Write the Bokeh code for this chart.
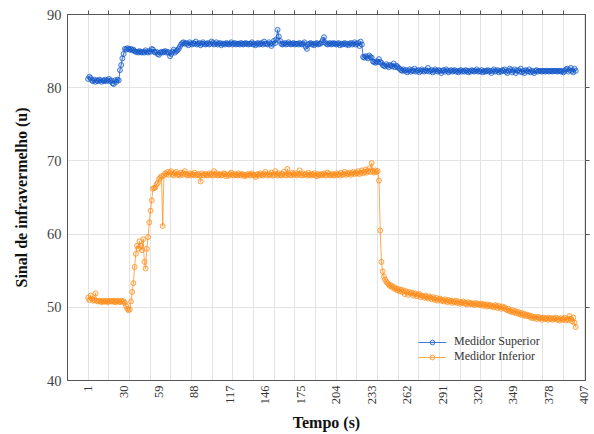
import math
from bokeh.plotting import figure
from bokeh.models import Range1d, FixedTicker, LinearAxis, Legend, LegendItem, ColumnDataSource
from bokeh.embed import file_html
from bokeh.resources import INLINE

# ---- data ----
superior = [
    81.2, 81.5, 81.3, 81.0, 80.9, 81.1, 80.8, 81.0, 80.9, 81.1, 81.0, 80.8, 81.0, 80.9, 81.1, 80.9, 81.0, 81.2, 80.9, 81.0,
    80.6, 80.5, 81.0, 80.8, 81.1, 81.0, 82.4, 83.1, 84.0, 84.6, 85.3, 85.2, 85.4, 85.3, 85.2, 85.3, 85.1, 85.2, 85.0, 84.9,
    84.9, 84.8, 85.0, 84.9, 84.8, 84.9, 84.8, 85.1, 84.9, 84.8, 85.0, 84.9, 85.3, 85.2, 84.9, 84.8, 84.9, 84.6, 84.5, 84.8,
    84.9, 84.8, 84.9, 85.0, 84.8, 84.9, 84.8, 84.3, 84.6, 84.9, 85.2, 84.8, 85.0, 85.1, 85.3, 85.6, 85.9, 86.1, 86.2, 86.0,
    86.1, 86.0, 85.8, 86.2, 86.0, 85.9, 86.1, 86.0, 86.3, 85.9, 86.0, 86.1, 85.8, 86.0, 86.2, 86.0, 85.9, 86.0, 86.1, 85.9,
    86.0, 86.3, 86.1, 85.9, 86.0, 86.2, 85.9, 86.0, 86.1, 85.8, 86.0, 86.0, 85.9, 86.1, 86.0, 85.9, 86.0, 86.2, 85.9, 86.0,
    86.1, 85.9, 86.0, 86.0, 85.9, 86.1, 86.0, 85.9, 86.0, 86.1, 86.0, 85.9, 86.0, 86.0, 86.2, 85.9, 86.0, 85.8, 86.0, 86.1,
    85.9, 86.0, 86.1, 85.9, 86.3, 86.0, 86.0, 85.9, 86.2, 86.0, 85.7, 86.0, 86.4, 86.1, 86.6, 87.9, 87.0, 86.4, 86.0, 85.9,
    86.0, 86.1, 85.9, 86.0, 86.2, 86.0, 85.9, 86.0, 86.1, 85.9, 86.0, 86.0, 85.9, 86.1, 86.0, 85.9, 86.0, 86.2, 85.6, 85.3,
    85.9, 86.0, 86.1, 85.9, 86.0, 85.8, 86.0, 86.1, 85.9, 86.0, 86.0, 86.2, 86.5, 86.9, 86.2, 86.0, 85.9, 86.0, 86.1, 85.9,
    86.0, 86.1, 86.0, 85.9, 86.0, 86.1, 85.8, 86.0, 85.9, 86.0, 86.1, 85.9, 86.0, 85.8, 86.0, 86.1, 85.9, 86.0, 86.2, 85.9,
    86.0, 86.1, 85.7, 86.3, 85.9, 84.2, 84.1, 84.3, 84.2, 84.0, 84.4, 84.2, 84.1, 83.6, 83.5, 83.4, 83.6, 83.5, 83.9, 83.5,
    83.4, 83.1, 83.0, 82.9, 83.2, 83.0, 82.8, 83.1, 83.0, 82.9, 83.3, 82.8, 83.0, 82.9, 82.7, 82.6, 82.4, 82.3, 82.5, 82.3,
    82.4, 82.1, 82.3, 82.5, 82.2, 82.4, 82.3, 82.6, 82.2, 82.3, 82.4, 82.1, 82.3, 82.5, 82.3, 82.2, 82.4, 82.3, 82.7, 82.2,
    82.3, 82.4, 82.1, 82.3, 82.5, 82.3, 82.2, 82.4, 82.3, 82.0, 82.3, 82.4, 82.2, 82.5, 82.3, 82.1, 82.3, 82.4, 82.2, 82.3,
    82.4, 82.2, 82.3, 82.1, 82.3, 82.4, 82.2, 82.3, 82.2, 82.4, 82.3, 82.1, 82.3, 82.2, 82.4, 82.3, 82.2, 82.3, 82.5, 82.2,
    82.3, 82.2, 82.4, 82.1, 82.3, 82.2, 82.3, 82.4, 82.2, 82.3, 82.0, 82.3, 82.5, 82.2, 82.3, 82.4, 82.1, 82.3, 82.2, 82.4,
    82.3, 82.5, 82.2, 82.0, 82.3, 82.6, 82.4, 82.1, 82.3, 82.5, 82.0, 82.3, 82.4, 82.2, 82.6, 82.1, 82.3, 82.0, 82.4, 82.3,
    82.2, 82.5, 82.1, 82.3, 82.2, 82.0, 82.3, 82.4, 82.2, 82.3, 82.3, 82.2, 82.3, 82.3, 82.2, 82.3, 82.3, 82.2, 82.3, 82.3,
    82.2, 82.3, 82.3, 82.3, 82.2, 82.3, 82.3, 82.2, 82.3, 82.1, 82.3, 82.5, 82.6, 82.2, 82.4, 82.7, 82.3, 82.1, 82.6, 82.3,
]

inferior = [
    51.3, 51.0, 51.6, 51.2, 50.9, 51.0, 51.9, 50.9, 50.8, 50.9, 50.8, 50.7, 50.9, 50.8, 50.8, 50.9, 50.7, 50.8, 50.9, 50.8,
    50.8, 50.9, 50.7, 50.8, 50.9, 50.8, 50.7, 50.9, 50.8, 50.8, 50.6, 50.2, 49.8, 49.6, 49.7, 50.8, 52.1, 53.3, 55.5, 57.3,
    58.4, 58.0, 59.0, 58.4, 57.8, 59.3, 56.2, 55.3, 58.0, 59.6, 61.6, 63.2, 64.6, 66.2, 66.3, 66.4, 66.8, 67.0, 67.5, 67.7,
    67.9, 61.1, 68.0, 68.3, 68.2, 68.5, 68.1, 68.4, 68.6, 68.2, 68.0, 68.3, 68.5, 68.1, 68.2, 68.0, 68.4, 68.1, 68.3, 68.6,
    68.2, 68.0, 68.1, 68.3, 68.0, 68.2, 68.1, 68.4, 68.0, 68.1, 68.2, 68.0, 67.2, 68.3, 68.1, 68.0, 68.2, 68.1, 68.0, 68.3,
    68.1, 68.2, 68.0, 68.6, 68.1, 68.3, 68.0, 68.1, 68.2, 68.0, 68.1, 68.3, 68.2, 67.9, 68.1, 68.0, 68.2, 68.4, 68.1, 68.0,
    68.2, 68.1, 68.0, 68.3, 68.1, 68.0, 68.2, 68.1, 67.9, 68.1, 68.0, 68.2, 68.1, 68.0, 68.3, 68.1, 68.0, 67.8, 68.1, 68.2,
    68.0, 68.3, 68.1, 68.0, 68.2, 68.5, 68.1, 68.0, 68.2, 68.1, 68.4, 68.0, 68.1, 68.6, 68.2, 68.0, 68.3, 68.1, 68.0, 68.2,
    68.5, 68.1, 68.0, 68.9, 68.2, 68.1, 68.0, 68.4, 68.2, 68.1, 68.3, 68.0, 68.2, 68.7, 68.1, 68.0, 68.3, 68.1, 68.2, 68.0,
    68.4, 68.1, 68.0, 68.2, 68.1, 68.3, 68.0, 67.9, 68.2, 68.1, 68.0, 68.2, 68.1, 68.3, 68.0, 68.1, 68.4, 68.2, 68.0, 68.1,
    68.2, 68.0, 68.1, 68.3, 68.1, 68.2, 68.0, 68.4, 68.1, 68.2, 68.5, 68.1, 68.3, 68.2, 68.4, 68.1, 68.3, 68.5, 68.2, 68.4,
    68.3, 68.6, 68.2, 68.4, 68.7, 68.3, 68.5, 68.8, 68.4, 68.6, 69.0, 68.5, 69.7, 68.6, 68.4, 68.7, 68.5, 68.6, 67.3, 60.5,
    56.2, 54.9, 54.2, 53.8, 53.5, 53.3, 53.1, 52.9, 53.0, 52.7, 52.8, 52.5, 52.6, 52.3, 52.5, 52.2, 52.4, 52.1, 52.3, 51.8,
    52.2, 52.0, 51.7, 52.1, 51.9, 52.0, 51.6, 51.8, 51.9, 51.5, 51.7, 51.8, 51.4, 51.6, 51.5, 51.3, 51.6, 51.4, 51.2, 51.5,
    51.3, 51.1, 51.4, 51.2, 51.0, 51.3, 50.9, 51.1, 51.2, 50.9, 51.0, 50.8, 51.1, 50.9, 50.7, 51.0, 50.8, 50.9, 50.6, 50.8,
    50.7, 50.9, 50.6, 50.8, 50.5, 50.7, 50.6, 50.8, 50.5, 50.6, 50.4, 50.7, 50.5, 50.6, 50.4, 50.5, 50.3, 50.6, 50.4, 50.5,
    50.3, 50.4, 50.5, 50.2, 50.4, 50.3, 50.1, 50.4, 50.2, 50.3, 50.1, 50.2, 50.0, 50.3, 50.1, 49.9, 50.2, 50.0, 49.8, 50.1,
    49.9, 50.0, 49.7, 49.6, 49.8, 49.5, 49.4, 49.6, 49.3, 49.5, 49.2, 49.4, 49.1, 49.3, 49.0, 49.2, 48.9, 49.1, 48.8, 49.0,
    48.8, 48.9, 48.6, 48.8, 48.5, 48.7, 48.6, 48.4, 48.7, 48.5, 48.6, 48.3, 48.5, 48.6, 48.4, 48.5, 48.3, 48.6, 48.4, 48.5,
    48.3, 48.5, 48.4, 48.6, 48.3, 48.4, 48.2, 48.5, 48.3, 48.4, 48.6, 48.2, 48.4, 48.3, 48.8, 48.4, 48.1, 48.6, 47.9, 47.3,
]

tempo = list(range(1, len(superior) + 1))

x_tick_labels = [1, 30, 59, 88, 117, 146, 175, 204, 233, 262, 291, 320, 349, 378, 407]
y_ticks = [40, 50, 60, 70, 80, 90]
series_names = ["Medidor Superior", "Medidor Inferior"]

# ---- style ----
BLUE = "#1458c8"
ORANGE = "#ff8c1a"
SERIF = "'Liberation Serif', 'DejaVu Serif', serif"
x_grid_step = (407 - 1) / 24.0
x_grid = [1 + k * x_grid_step for k in range(0, 25)]

src = ColumnDataSource(dict(t=tempo, sup=superior, inf=inferior))

p = figure(width=594, height=434, output_backend="svg", toolbar_location=None,
           x_range=Range1d(1 - x_grid_step, 408.0), y_range=Range1d(40, 90),
           min_border_left=67, min_border_right=9, min_border_top=14, min_border_bottom=51,
           background_fill_color="white", border_fill_color="white")

p.outline_line_color = "#555555"
p.outline_line_width = 1

# grids
p.xgrid.ticker = FixedTicker(ticks=x_grid)
p.ygrid.ticker = FixedTicker(ticks=[50, 60, 70, 80])
p.xgrid.grid_line_color = "#e3e3e3"
p.ygrid.grid_line_color = "#e3e3e3"
p.xgrid.grid_line_width = 1
p.ygrid.grid_line_width = 1

# bottom axis
xa = p.xaxis[0]
xa.ticker = FixedTicker(ticks=x_tick_labels)
xa.major_label_orientation = math.pi / 2
xa.major_label_text_font = SERIF
xa.major_label_text_font_size = "12.5px"
xa.major_label_text_color = "#333333"
xa.major_tick_out = 0
xa.major_tick_in = 0
xa.minor_tick_out = 0
xa.minor_tick_in = 0
xa.axis_line_color = "#555555"
xa.major_label_standoff = 5
xa.axis_label = "Tempo (s)"
xa.axis_label_text_font = SERIF
xa.axis_label_text_font_style = "bold"
xa.axis_label_text_font_size = "16px"
xa.axis_label_text_color = "#111111"
xa.axis_label_standoff = 7

# left axis
ya = p.yaxis[0]
ya.ticker = FixedTicker(ticks=y_ticks)
ya.major_label_text_font = SERIF
ya.major_label_text_font_size = "14.5px"
ya.major_label_text_color = "#444444"
ya.major_tick_out = 0
ya.major_tick_in = 0
ya.minor_tick_out = 0
ya.minor_tick_in = 0
ya.axis_line_color = "#555555"
ya.major_label_standoff = 6
ya.axis_label = "Sinal de infravermelho (u)"
ya.axis_label_text_font = SERIF
ya.axis_label_text_font_style = "bold"
ya.axis_label_text_font_size = "16px"
ya.axis_label_text_color = "#111111"
ya.axis_label_standoff = 14

# right and top axes: tick marks only (labels not painted)
ra = LinearAxis(ticker=FixedTicker(ticks=[50, 60, 70, 80]), major_tick_out=4, major_tick_in=0,
                minor_tick_out=0, minor_tick_in=0, major_label_text_font_size="1px",
                major_label_text_color=None,
                axis_line_color="#555555", major_tick_line_color="#555555", major_label_standoff=0)
p.add_layout(ra, "right")
ta = LinearAxis(ticker=FixedTicker(ticks=x_grid[:-1]), major_tick_out=4, major_tick_in=0,
                minor_tick_out=0, minor_tick_in=0, major_label_text_font_size="1px",
                major_label_text_color=None,
                axis_line_color="#555555", major_tick_line_color="#555555", major_label_standoff=0)
p.add_layout(ta, "above")

# series
l1 = p.line("t", "sup", source=src, line_color=BLUE, line_width=1, line_alpha=0.8)
s1 = p.scatter("t", "sup", source=src, marker="circle", size=5, line_color=BLUE,
               line_width=1, line_alpha=0.75, fill_color=BLUE, fill_alpha=0.15)
l2 = p.line("t", "inf", source=src, line_color=ORANGE, line_width=1, line_alpha=0.75)
s2 = p.scatter("t", "inf", source=src, marker="circle", size=5, line_color=ORANGE,
               line_width=1, line_alpha=0.75, fill_color=ORANGE, fill_alpha=0.15)

legend = Legend(items=[LegendItem(label=series_names[0], renderers=[l1, s1]),
                       LegendItem(label=series_names[1], renderers=[l2, s2])],
                location=(351, 16), label_text_font=SERIF, label_text_font_size="12px",
                label_text_color="#333333", border_line_color=None, background_fill_alpha=0,
                glyph_width=28, glyph_height=12, spacing=0, padding=2, label_standoff=8,
                label_height=12)
p.add_layout(legend, "center")

open("out.html", "w").write(file_html(p, INLINE))
